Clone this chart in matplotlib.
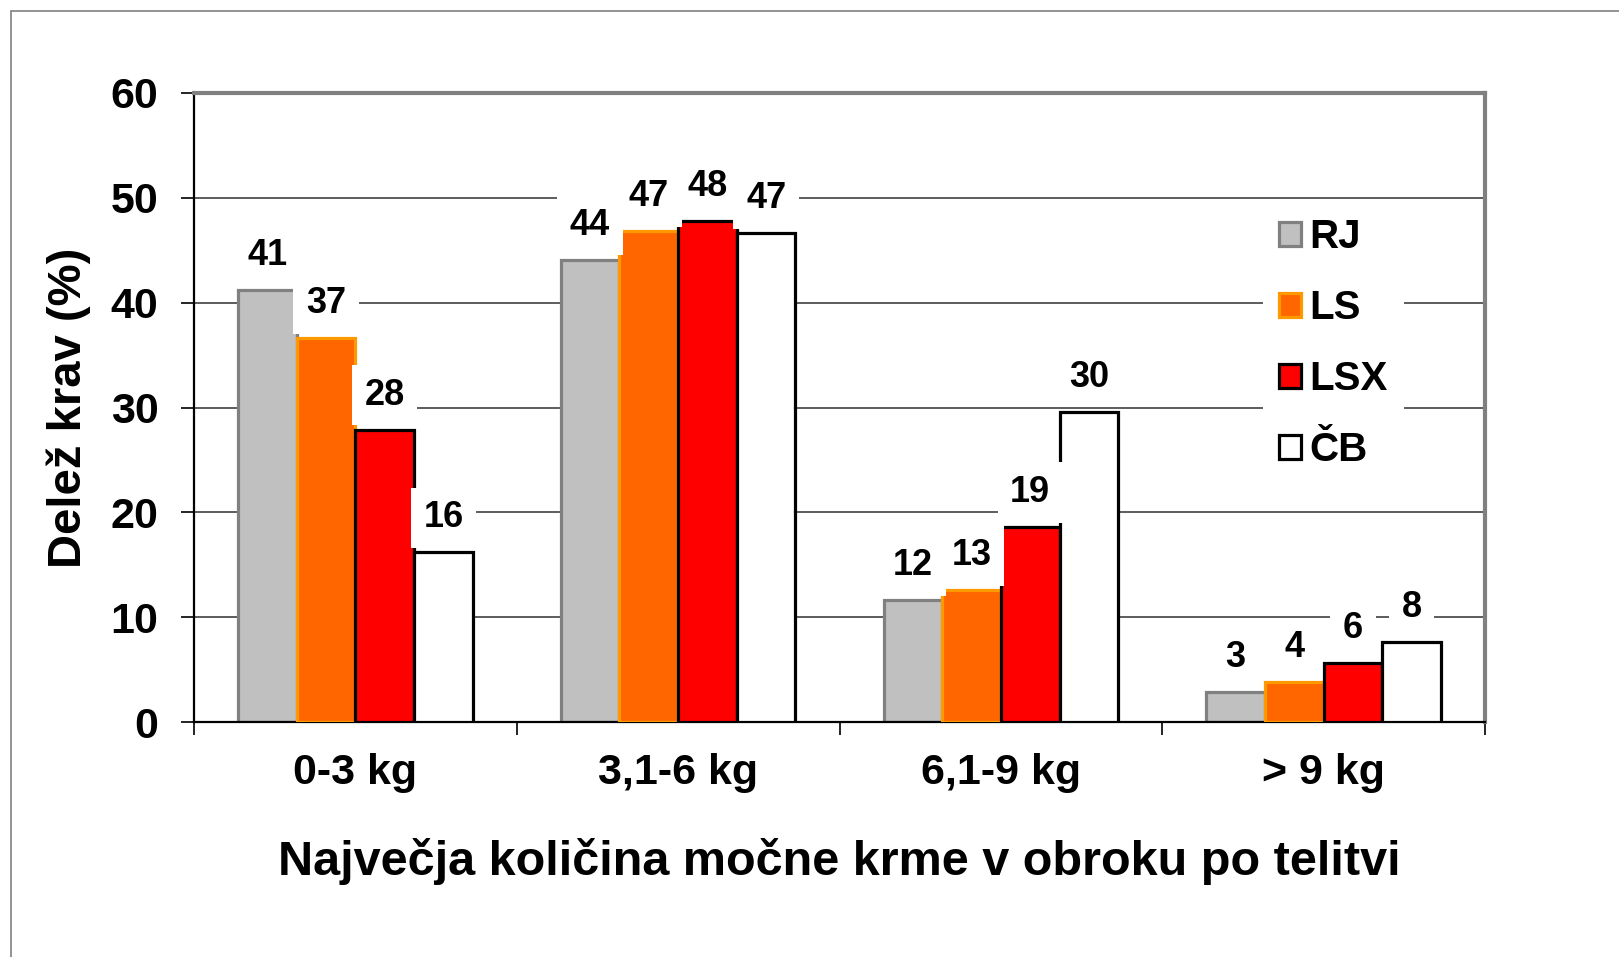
import numpy as np
import matplotlib
matplotlib.use("Agg")
import matplotlib.pyplot as plt
from matplotlib.patches import Rectangle

plt.rcParams['font.family'] = ['Liberation Sans', 'DejaVu Sans']
plt.rcParams['font.weight'] = 'bold'

# data
categories = ["0-3 kg", "3,1-6 kg", "6,1-9 kg", "> 9 kg"]
series = ["RJ", "LS", "LSX", "ČB"]
rj = [41.2, 44.1, 11.6, 2.9]
ls = [36.6, 46.8, 12.6, 3.8]
lsx = [27.9, 47.8, 18.6, 5.6]
cb = [16.2, 46.6, 29.6, 7.6]
values = [rj, ls, lsx, cb]

face_colors = ["#C0C0C0", "#FF6600", "#FF0000", "#FFFFFF"]
edge_colors = ["#808080", "#FF9900", "#000000", "#000000"]

fig = plt.figure(figsize=(16.19, 9.57), dpi=100)
ax = fig.add_axes([194 / 1619, 1 - 722 / 957, (1485 - 194) / 1619, (722 - 93) / 957])

x = np.arange(len(categories))
w = 1 / 5.5
offsets = (np.arange(4) - 1.5) * w

for i in range(4):
    ax.bar(x + offsets[i], values[i], w, color=face_colors[i], edgecolor=edge_colors[i],
           linewidth=2.3, label=series[i], zorder=2 + i)

# data labels with white boxes, drawn above all bars
for i in range(4):
    for j in range(len(categories)):
        ax.annotate(f"{values[i][j]:.0f}", (x[j] + offsets[i], values[i][j]),
                    xytext=(0, 18), textcoords="offset points", ha="center", va="baseline",
                    fontsize=26, fontweight="bold", zorder=10,
                    bbox=dict(boxstyle="square,pad=0.35", facecolor="white", edgecolor="none"))

ax.set_xlim(-0.5, 3.5)
ax.set_ylim(0, 60)
ax.set_yticks(range(0, 61, 10))
ax.grid(axis="y", color="#303030", linewidth=1.1)
ax.set_axisbelow(True)

ax.set_xticks(x)
ax.set_xticklabels(categories, fontsize=31, fontweight="bold")
ax.set_xticks(np.arange(-0.5, 4, 1), minor=True)
ax.tick_params(axis="x", which="major", length=0, pad=22)
ax.tick_params(axis="x", which="minor", length=9, width=1.2, direction="out")
ax.tick_params(axis="y", length=9.5, width=1.2, direction="out", pad=16, labelsize=31)

for side in ["left", "bottom"]:
    ax.spines[side].set_color("black")
    ax.spines[side].set_linewidth(1.6)
for side in ["top", "right"]:
    ax.spines[side].set_color("#808080")
    ax.spines[side].set_linewidth(3)

ax.set_xlabel("Največja količina močne krme v obroku po telitvi", fontsize=35,
              fontweight="bold", labelpad=33)
ax.set_ylabel("Delež krav (%)", fontsize=34, fontweight="bold", labelpad=14)

leg = ax.legend(loc="upper left", bbox_to_anchor=(1243 / 1619, 1 - 182 / 957),
                bbox_transform=fig.transFigure, prop={"size": 29, "weight": "bold"},
                handlelength=0.55, handleheight=0.55, handletextpad=0.2,
                labelspacing=0.82, borderpad=0.4, frameon=True, fancybox=False,
                framealpha=1, facecolor="white", edgecolor="none")
leg.set_zorder(11)

# outer chart border (only left and top visible in the original crop)
fig.add_artist(Rectangle((11 / 1619, -0.1), 1.2, 1 - 11 / 957 + 0.1,
                         transform=fig.transFigure, fill=False, edgecolor="#808080",
                         linewidth=1.2, clip_on=False))

fig.savefig("out.png", dpi=100)
